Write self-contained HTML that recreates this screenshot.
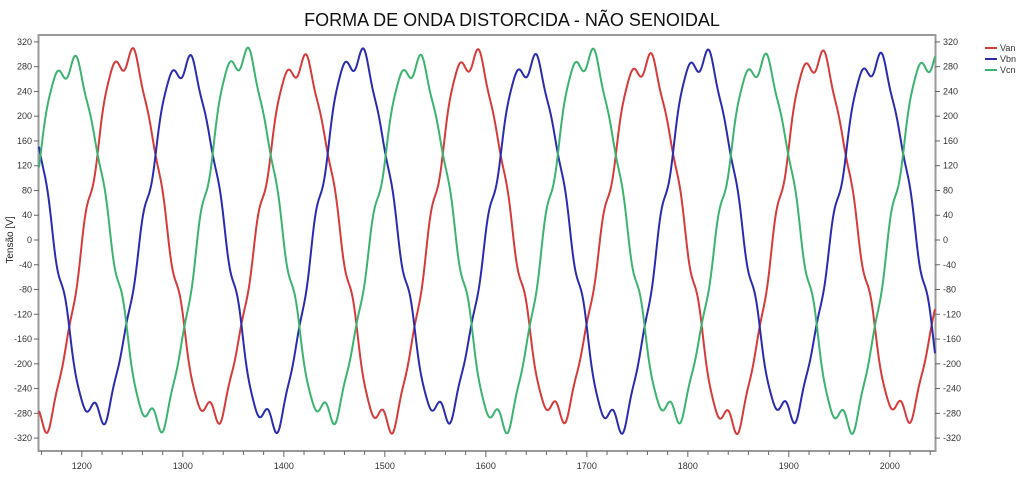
<!DOCTYPE html>
<html><head><meta charset="utf-8"><style>
html,body{margin:0;padding:0;background:#fff;}
svg{display:block;font-family:"Liberation Sans",sans-serif;}
</style></head><body>
<svg id="s" width="1024" height="480" xmlns="http://www.w3.org/2000/svg">
<text x="512" y="26" text-anchor="middle" font-size="18" fill="#111">FORMA DE ONDA DISTORCIDA - NÃO SENOIDAL</text>
<text transform="translate(13,240) rotate(-90)" text-anchor="middle" font-size="10" fill="#222">Tensão [V]</text>
<rect x="38.5" y="35" width="897" height="416" fill="none" stroke="#999" stroke-width="2"/>
<g id="ax" font-size="9" fill="#333"></g>
<g id="lines" fill="none" stroke-width="2" stroke-linejoin="round"></g>
<g font-size="9" fill="#333">
<line x1="985" y1="48" x2="997" y2="48" stroke="#d63b3b" stroke-width="2"/><text x="1000" y="51">Van</text>
<line x1="985" y1="59" x2="997" y2="59" stroke="#2b2bb0" stroke-width="2"/><text x="1000" y="62">Vbn</text>
<line x1="985" y1="70" x2="997" y2="70" stroke="#3cb371" stroke-width="2"/><text x="1000" y="73">Vcn</text>
</g>
</svg>
<script>
var ns="http://www.w3.org/2000/svg";
function el(p,t,a,txt){var e=document.createElementNS(ns,t);for(var k in a)e.setAttribute(k,a[k]);if(txt!==undefined)e.textContent=txt;p.appendChild(e);return e;}
var ax=document.getElementById('ax');
function Y(v){return 240-v*0.619;}
for(var v=-320;v<=320;v+=40){
 var y=Y(v);
 el(ax,'line',{x1:34,y1:y,x2:39,y2:y,stroke:'#666'});
 el(ax,'text',{x:32,y:y+3,'text-anchor':'end'},String(v));
 el(ax,'line',{x1:935,y1:y,x2:940,y2:y,stroke:'#666'});
 el(ax,'text',{x:943,y:y+3},String(v));
}
function X(u){return 39+(u-1157.6)*1.01;}
for(var u=1160;u<=2040;u+=20){
 var x=X(u);var major=(u%100==0);
 el(ax,'line',{x1:x,y1:451,x2:x,y2:major?457:455,stroke:'#666'});
 if(major)el(ax,'text',{x:x,y:469,'text-anchor':'middle'},String(u));
}
var g=document.getElementById('lines');
var P=172.6, x0=83;
function wave(px,sh,k){
 var t=2*Math.PI*(px-x0-sh)/P;
 var a=1+0.03*Math.sin(px/53+k);
 return a*(295*Math.sin(t)-8*Math.sin(5*t+0.3)+13*Math.sin(7*t+1.0)+7*Math.sin(11*t+0.5));
}
var cols=[['#d63b3b',0,0],['#2b2bb0',57.5,2],['#3cb371',-57.5,4]];
cols.forEach(function(c){
 var pts=[];
 for(var px=39;px<=935;px+=0.5){pts.push(px.toFixed(1)+','+Y(wave(px,c[1],c[2])).toFixed(1));}
 el(g,'polyline',{points:pts.join(' '),stroke:c[0]});
});
</script>
</body></html>
